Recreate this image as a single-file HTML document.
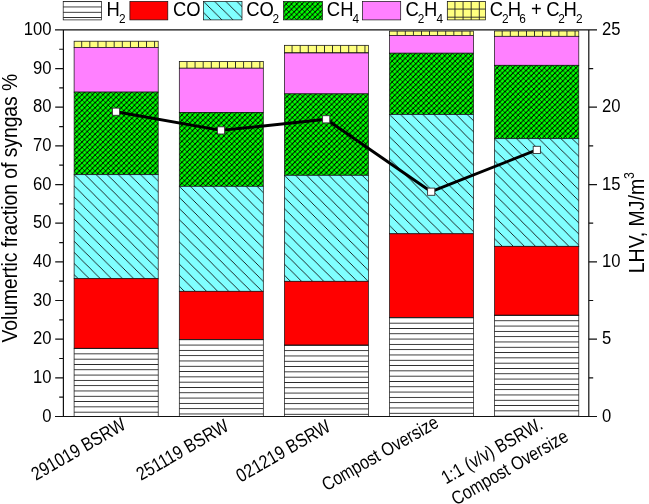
<!DOCTYPE html>
<html><head><meta charset="utf-8"><style>html,body{margin:0;padding:0;background:#fff;width:649px;height:504px;overflow:hidden}svg{display:block;font-family:"Liberation Sans",sans-serif;will-change:transform}</style></head>
<body><svg width="649" height="504" viewBox="0 0 649 504" font-family="Liberation Sans, sans-serif" fill="#000">
<defs><pattern id="p1" patternUnits="userSpaceOnUse" x="74.1" y="41.2" width="8.1" height="8.1"><rect width="8.1" height="8.1" fill="#ffff80"/><path d="M7.65 0V8.1M0 7.65H8.1" stroke="#222" stroke-width="0.9" fill="none"/></pattern><pattern id="p2" patternUnits="userSpaceOnUse" x="74.1" y="92.1" width="5.25" height="5.25"><rect width="5.25" height="5.25" fill="#00ff00"/><path d="M-5.25 10.5L10.5 -5.25M-10.5 10.5L5.25 -5.25M0 10.5L15.75 -5.25" stroke="#000" stroke-width="1.05"/><path d="M-5.25 -5.25L10.5 10.5M-10.5 -5.25L5.25 10.5M0 -5.25L15.75 10.5" stroke="#000" stroke-width="0.7"/></pattern><pattern id="p3" patternUnits="userSpaceOnUse" x="74.1" y="174.7" width="11.1" height="11.1"><rect width="11.1" height="11.1" fill="#80ffff"/><path d="M-11.1 -11.1L22.2 22.2M-22.2 -11.1L11.1 22.2M0 -11.1L33.3 22.2" stroke="#111" stroke-width="0.9"/></pattern><pattern id="p4" patternUnits="userSpaceOnUse" x="74.1" y="349.00" width="40" height="5.3"><rect width="40" height="5.3" fill="#fff"/><line x1="0" x2="40" y1="4.85" y2="4.85" stroke="#222" stroke-width="0.9"/></pattern><pattern id="p5" patternUnits="userSpaceOnUse" x="179.3" y="61.5" width="8.1" height="8.1"><rect width="8.1" height="8.1" fill="#ffff80"/><path d="M7.65 0V8.1M0 7.65H8.1" stroke="#222" stroke-width="0.9" fill="none"/></pattern><pattern id="p6" patternUnits="userSpaceOnUse" x="179.3" y="112.4" width="5.25" height="5.25"><rect width="5.25" height="5.25" fill="#00ff00"/><path d="M-5.25 10.5L10.5 -5.25M-10.5 10.5L5.25 -5.25M0 10.5L15.75 -5.25" stroke="#000" stroke-width="1.05"/><path d="M-5.25 -5.25L10.5 10.5M-10.5 -5.25L5.25 10.5M0 -5.25L15.75 10.5" stroke="#000" stroke-width="0.7"/></pattern><pattern id="p7" patternUnits="userSpaceOnUse" x="179.3" y="186.3" width="11.1" height="11.1"><rect width="11.1" height="11.1" fill="#80ffff"/><path d="M-11.1 -11.1L22.2 22.2M-22.2 -11.1L11.1 22.2M0 -11.1L33.3 22.2" stroke="#111" stroke-width="0.9"/></pattern><pattern id="p8" patternUnits="userSpaceOnUse" x="179.3" y="340.20" width="40" height="5.3"><rect width="40" height="5.3" fill="#fff"/><line x1="0" x2="40" y1="4.85" y2="4.85" stroke="#222" stroke-width="0.9"/></pattern><pattern id="p9" patternUnits="userSpaceOnUse" x="284.4" y="45.3" width="8.1" height="8.1"><rect width="8.1" height="8.1" fill="#ffff80"/><path d="M7.65 0V8.1M0 7.65H8.1" stroke="#222" stroke-width="0.9" fill="none"/></pattern><pattern id="p10" patternUnits="userSpaceOnUse" x="284.4" y="93.9" width="5.25" height="5.25"><rect width="5.25" height="5.25" fill="#00ff00"/><path d="M-5.25 10.5L10.5 -5.25M-10.5 10.5L5.25 -5.25M0 10.5L15.75 -5.25" stroke="#000" stroke-width="1.05"/><path d="M-5.25 -5.25L10.5 10.5M-10.5 -5.25L5.25 10.5M0 -5.25L15.75 10.5" stroke="#000" stroke-width="0.7"/></pattern><pattern id="p11" patternUnits="userSpaceOnUse" x="284.4" y="175.3" width="11.1" height="11.1"><rect width="11.1" height="11.1" fill="#80ffff"/><path d="M-11.1 -11.1L22.2 22.2M-22.2 -11.1L11.1 22.2M0 -11.1L33.3 22.2" stroke="#111" stroke-width="0.9"/></pattern><pattern id="p12" patternUnits="userSpaceOnUse" x="284.4" y="345.80" width="40" height="5.3"><rect width="40" height="5.3" fill="#fff"/><line x1="0" x2="40" y1="4.85" y2="4.85" stroke="#222" stroke-width="0.9"/></pattern><pattern id="p13" patternUnits="userSpaceOnUse" x="389.5" y="31.1" width="8.1" height="8.1"><rect width="8.1" height="8.1" fill="#ffff80"/><path d="M7.65 0V8.1M0 7.65H8.1" stroke="#222" stroke-width="0.9" fill="none"/></pattern><pattern id="p14" patternUnits="userSpaceOnUse" x="389.5" y="53.2" width="5.25" height="5.25"><rect width="5.25" height="5.25" fill="#00ff00"/><path d="M-5.25 10.5L10.5 -5.25M-10.5 10.5L5.25 -5.25M0 10.5L15.75 -5.25" stroke="#000" stroke-width="1.05"/><path d="M-5.25 -5.25L10.5 10.5M-10.5 -5.25L5.25 10.5M0 -5.25L15.75 10.5" stroke="#000" stroke-width="0.7"/></pattern><pattern id="p15" patternUnits="userSpaceOnUse" x="389.5" y="114.5" width="11.1" height="11.1"><rect width="11.1" height="11.1" fill="#80ffff"/><path d="M-11.1 -11.1L22.2 22.2M-22.2 -11.1L11.1 22.2M0 -11.1L33.3 22.2" stroke="#111" stroke-width="0.9"/></pattern><pattern id="p16" patternUnits="userSpaceOnUse" x="389.5" y="318.30" width="40" height="5.3"><rect width="40" height="5.3" fill="#fff"/><line x1="0" x2="40" y1="4.85" y2="4.85" stroke="#222" stroke-width="0.9"/></pattern><pattern id="p17" patternUnits="userSpaceOnUse" x="494.5" y="31.0" width="8.1" height="8.1"><rect width="8.1" height="8.1" fill="#ffff80"/><path d="M7.65 0V8.1M0 7.65H8.1" stroke="#222" stroke-width="0.9" fill="none"/></pattern><pattern id="p18" patternUnits="userSpaceOnUse" x="494.5" y="65.3" width="5.25" height="5.25"><rect width="5.25" height="5.25" fill="#00ff00"/><path d="M-5.25 10.5L10.5 -5.25M-10.5 10.5L5.25 -5.25M0 10.5L15.75 -5.25" stroke="#000" stroke-width="1.05"/><path d="M-5.25 -5.25L10.5 10.5M-10.5 -5.25L5.25 10.5M0 -5.25L15.75 10.5" stroke="#000" stroke-width="0.7"/></pattern><pattern id="p19" patternUnits="userSpaceOnUse" x="494.5" y="138.7" width="11.1" height="11.1"><rect width="11.1" height="11.1" fill="#80ffff"/><path d="M-11.1 -11.1L22.2 22.2M-22.2 -11.1L11.1 22.2M0 -11.1L33.3 22.2" stroke="#111" stroke-width="0.9"/></pattern><pattern id="p20" patternUnits="userSpaceOnUse" x="494.5" y="315.90" width="40" height="5.3"><rect width="40" height="5.3" fill="#fff"/><line x1="0" x2="40" y1="4.85" y2="4.85" stroke="#222" stroke-width="0.9"/></pattern><pattern id="p21" patternUnits="userSpaceOnUse" x="63.2" y="2.10" width="40" height="5.3"><rect width="40" height="5.3" fill="#fff"/><line x1="0" x2="40" y1="4.85" y2="4.85" stroke="#222" stroke-width="0.9"/></pattern><pattern id="p22" patternUnits="userSpaceOnUse" x="203.5" y="1.4" width="11.1" height="11.1"><rect width="11.1" height="11.1" fill="#80ffff"/><path d="M-11.1 -11.1L22.2 22.2M-22.2 -11.1L11.1 22.2M0 -11.1L33.3 22.2" stroke="#111" stroke-width="0.9"/></pattern><pattern id="p23" patternUnits="userSpaceOnUse" x="283.6" y="1.4" width="5.25" height="5.25"><rect width="5.25" height="5.25" fill="#00ff00"/><path d="M-5.25 10.5L10.5 -5.25M-10.5 10.5L5.25 -5.25M0 10.5L15.75 -5.25" stroke="#000" stroke-width="1.05"/><path d="M-5.25 -5.25L10.5 10.5M-10.5 -5.25L5.25 10.5M0 -5.25L15.75 10.5" stroke="#000" stroke-width="0.7"/></pattern><pattern id="p24" patternUnits="userSpaceOnUse" x="447.3" y="1.4" width="8.1" height="8.1"><rect width="8.1" height="8.1" fill="#ffff80"/><path d="M7.65 0V8.1M0 7.65H8.1" stroke="#222" stroke-width="0.9" fill="none"/></pattern></defs>
<rect width="649" height="504" fill="#fff"/>
<rect x="74.1" y="41.2" width="84.10" height="6.20" fill="url(#p1)" stroke="#111" stroke-width="0.7"/><rect x="74.1" y="47.4" width="84.10" height="44.70" fill="#ff80ff" stroke="#111" stroke-width="0.7"/><rect x="74.1" y="92.1" width="84.10" height="82.60" fill="url(#p2)" stroke="#111" stroke-width="0.7"/><rect x="74.1" y="174.7" width="84.10" height="104.00" fill="url(#p3)" stroke="#111" stroke-width="0.7"/><rect x="74.1" y="278.7" width="84.10" height="69.60" fill="#ff0000" stroke="#111" stroke-width="0.7"/><rect x="74.1" y="348.3" width="84.10" height="68.20" fill="url(#p4)" stroke="#111" stroke-width="0.7"/><rect x="179.3" y="61.5" width="84.00" height="6.70" fill="url(#p5)" stroke="#111" stroke-width="0.7"/><rect x="179.3" y="68.2" width="84.00" height="44.20" fill="#ff80ff" stroke="#111" stroke-width="0.7"/><rect x="179.3" y="112.4" width="84.00" height="73.90" fill="url(#p6)" stroke="#111" stroke-width="0.7"/><rect x="179.3" y="186.3" width="84.00" height="105.00" fill="url(#p7)" stroke="#111" stroke-width="0.7"/><rect x="179.3" y="291.3" width="84.00" height="48.20" fill="#ff0000" stroke="#111" stroke-width="0.7"/><rect x="179.3" y="339.5" width="84.00" height="77.00" fill="url(#p8)" stroke="#111" stroke-width="0.7"/><rect x="284.4" y="45.3" width="84.00" height="7.70" fill="url(#p9)" stroke="#111" stroke-width="0.7"/><rect x="284.4" y="53.0" width="84.00" height="40.90" fill="#ff80ff" stroke="#111" stroke-width="0.7"/><rect x="284.4" y="93.9" width="84.00" height="81.40" fill="url(#p10)" stroke="#111" stroke-width="0.7"/><rect x="284.4" y="175.3" width="84.00" height="106.00" fill="url(#p11)" stroke="#111" stroke-width="0.7"/><rect x="284.4" y="281.3" width="84.00" height="63.80" fill="#ff0000" stroke="#111" stroke-width="0.7"/><rect x="284.4" y="345.1" width="84.00" height="71.40" fill="url(#p12)" stroke="#111" stroke-width="0.7"/><rect x="389.5" y="31.1" width="84.10" height="4.30" fill="url(#p13)" stroke="#111" stroke-width="0.7"/><rect x="389.5" y="35.4" width="84.10" height="17.80" fill="#ff80ff" stroke="#111" stroke-width="0.7"/><rect x="389.5" y="53.2" width="84.10" height="61.30" fill="url(#p14)" stroke="#111" stroke-width="0.7"/><rect x="389.5" y="114.5" width="84.10" height="119.30" fill="url(#p15)" stroke="#111" stroke-width="0.7"/><rect x="389.5" y="233.8" width="84.10" height="83.80" fill="#ff0000" stroke="#111" stroke-width="0.7"/><rect x="389.5" y="317.6" width="84.10" height="98.90" fill="url(#p16)" stroke="#111" stroke-width="0.7"/><rect x="494.5" y="31.0" width="84.30" height="5.30" fill="url(#p17)" stroke="#111" stroke-width="0.7"/><rect x="494.5" y="36.3" width="84.30" height="29.00" fill="#ff80ff" stroke="#111" stroke-width="0.7"/><rect x="494.5" y="65.3" width="84.30" height="73.40" fill="url(#p18)" stroke="#111" stroke-width="0.7"/><rect x="494.5" y="138.7" width="84.30" height="107.60" fill="url(#p19)" stroke="#111" stroke-width="0.7"/><rect x="494.5" y="246.3" width="84.30" height="68.90" fill="#ff0000" stroke="#111" stroke-width="0.7"/><rect x="494.5" y="315.2" width="84.30" height="101.30" fill="url(#p20)" stroke="#111" stroke-width="0.7"/>
<path d="M63.4 29.9V416.5M588.8 29.9V416.5" stroke="#111" stroke-width="1.2" fill="none"/><path d="M55 29.9H597M55 416.5H597" stroke="#111" stroke-width="1.2" fill="none"/><path d="M59.2 397.17H63.4M55.2 377.84H63.4M59.2 358.51H63.4M55.2 339.18H63.4M59.2 319.85H63.4M55.2 300.52H63.4M59.2 281.19H63.4M55.2 261.86H63.4M59.2 242.53H63.4M55.2 223.20H63.4M59.2 203.87H63.4M55.2 184.54H63.4M59.2 165.21H63.4M55.2 145.88H63.4M59.2 126.55H63.4M55.2 107.22H63.4M59.2 87.89H63.4M55.2 68.56H63.4M59.2 49.23H63.4M588.8 377.84H593.2M588.8 339.18H597.0M588.8 300.52H593.2M588.8 261.86H597.0M588.8 223.20H593.2M588.8 184.54H597.0M588.8 145.88H593.2M588.8 107.22H597.0M588.8 68.56H593.2" stroke="#111" stroke-width="1.2" fill="none"/>
<polyline points="116.0,111.7 221.0,130.4 326.2,119.3 431.2,191.7 536.8,149.9" fill="none" stroke="#000" stroke-width="2.9" stroke-linejoin="round"/><rect x="112.4" y="108.1" width="7.2" height="7.2" fill="#fff" stroke="#333" stroke-width="0.9"/><rect x="217.4" y="126.8" width="7.2" height="7.2" fill="#fff" stroke="#333" stroke-width="0.9"/><rect x="322.6" y="115.7" width="7.2" height="7.2" fill="#fff" stroke="#333" stroke-width="0.9"/><rect x="427.6" y="188.1" width="7.2" height="7.2" fill="#fff" stroke="#333" stroke-width="0.9"/><rect x="533.2" y="146.3" width="7.2" height="7.2" fill="#fff" stroke="#333" stroke-width="0.9"/>
<rect x="63.2" y="1.4" width="38.30" height="18.50" fill="url(#p21)" stroke="#111" stroke-width="0.7"/><rect x="129.9" y="1.4" width="37.90" height="18.50" fill="#ff0000" stroke="#111" stroke-width="0.7"/><rect x="203.5" y="1.4" width="38.50" height="18.50" fill="url(#p22)" stroke="#111" stroke-width="0.7"/><rect x="283.6" y="1.4" width="38.90" height="18.50" fill="url(#p23)" stroke="#111" stroke-width="0.7"/><rect x="362.5" y="1.4" width="38.20" height="18.50" fill="#ff80ff" stroke="#111" stroke-width="0.7"/><rect x="447.3" y="1.4" width="38.20" height="18.50" fill="url(#p24)" stroke="#111" stroke-width="0.7"/><text transform="translate(106.49,15.8) scale(0.94,1)" font-size="19.6">H</text><text transform="translate(119.00,22.6) scale(0.94,1)" font-size="12.6">2</text><text transform="translate(172.96,15.8) scale(0.94,1)" font-size="19.6">CO</text><text transform="translate(246.16,15.8) scale(0.94,1)" font-size="19.6">CO</text><text transform="translate(272.40,22.6) scale(0.94,1)" font-size="12.6">2</text><text transform="translate(326.86,15.8) scale(0.94,1)" font-size="19.6">CH</text><text transform="translate(352.43,22.6) scale(0.94,1)" font-size="12.6">4</text><text transform="translate(405.56,15.8) scale(0.94,1)" font-size="19.6">C</text><text transform="translate(417.80,22.6) scale(0.94,1)" font-size="12.6">2</text><text transform="translate(423.89,15.8) scale(0.94,1)" font-size="19.6">H</text><text transform="translate(436.53,22.6) scale(0.94,1)" font-size="12.6">4</text><text transform="translate(489.76,15.8) scale(0.94,1)" font-size="19.6">C</text><text transform="translate(502.00,22.6) scale(0.94,1)" font-size="12.6">2</text><text transform="translate(507.79,15.8) scale(0.94,1)" font-size="19.6">H</text><text transform="translate(519.20,22.6) scale(0.94,1)" font-size="12.6">6</text><text transform="translate(531.00,15.8) scale(0.94,1)" font-size="19.6">+</text><text transform="translate(546.36,15.8) scale(0.94,1)" font-size="19.6">C</text><text transform="translate(558.30,22.6) scale(0.94,1)" font-size="12.6">2</text><text transform="translate(563.59,15.8) scale(0.94,1)" font-size="19.6">H</text><text transform="translate(576.00,22.6) scale(0.94,1)" font-size="12.6">2</text>
<text transform="translate(51.60,421.60) scale(0.89,1)" font-size="18.7" text-anchor="end" >0</text><text transform="translate(51.60,382.94) scale(0.89,1)" font-size="18.7" text-anchor="end" >10</text><text transform="translate(51.60,344.28) scale(0.89,1)" font-size="18.7" text-anchor="end" >20</text><text transform="translate(51.60,305.62) scale(0.89,1)" font-size="18.7" text-anchor="end" >30</text><text transform="translate(51.60,266.96) scale(0.89,1)" font-size="18.7" text-anchor="end" >40</text><text transform="translate(51.60,228.30) scale(0.89,1)" font-size="18.7" text-anchor="end" >50</text><text transform="translate(51.60,189.64) scale(0.89,1)" font-size="18.7" text-anchor="end" >60</text><text transform="translate(51.60,150.98) scale(0.89,1)" font-size="18.7" text-anchor="end" >70</text><text transform="translate(51.60,112.32) scale(0.89,1)" font-size="18.7" text-anchor="end" >80</text><text transform="translate(51.60,73.66) scale(0.89,1)" font-size="18.7" text-anchor="end" >90</text><text transform="translate(51.60,35.00) scale(0.89,1)" font-size="18.7" text-anchor="end" >100</text><text transform="translate(602.00,421.60) scale(0.89,1)" font-size="18.7" text-anchor="start" >0</text><text transform="translate(602.00,344.28) scale(0.89,1)" font-size="18.7" text-anchor="start" >5</text><text transform="translate(602.00,266.96) scale(0.89,1)" font-size="18.7" text-anchor="start" >10</text><text transform="translate(602.00,189.64) scale(0.89,1)" font-size="18.7" text-anchor="start" >15</text><text transform="translate(602.00,112.32) scale(0.89,1)" font-size="18.7" text-anchor="start" >20</text><text transform="translate(602.00,35.00) scale(0.89,1)" font-size="18.7" text-anchor="start" >25</text>
<text transform="translate(16.7,342.6) rotate(-90) scale(0.857,1)" font-size="22.5">Volumertic fraction of syngas %</text><text transform="translate(644.2,273.2) rotate(-90) scale(0.884,1)" font-size="22">LHV, MJ/m<tspan font-size="14" dy="-10">3</tspan></text>
<text transform="translate(127.1,428.3) rotate(-30) scale(0.84,1)" font-size="19.0" text-anchor="end">291019 BSRW</text><text transform="translate(230.0,429.7) rotate(-30) scale(0.84,1)" font-size="19.0" text-anchor="end">251119 BSRW</text><text transform="translate(331.9,430.1) rotate(-30) scale(0.84,1)" font-size="19.0" text-anchor="end">021219 BSRW</text><text transform="translate(440.0,426.0) rotate(-30) scale(0.84,1)" font-size="19.0" text-anchor="end">Compost Oversize</text><text transform="translate(544.0,428.0) rotate(-30) scale(0.84,1)" font-size="19.0" text-anchor="end">1:1 (v/v) BSRW.</text><text transform="translate(569.7,440.1) rotate(-30) scale(0.84,1)" font-size="19.0" text-anchor="end">Compost Oversize</text>
</svg></body></html>
